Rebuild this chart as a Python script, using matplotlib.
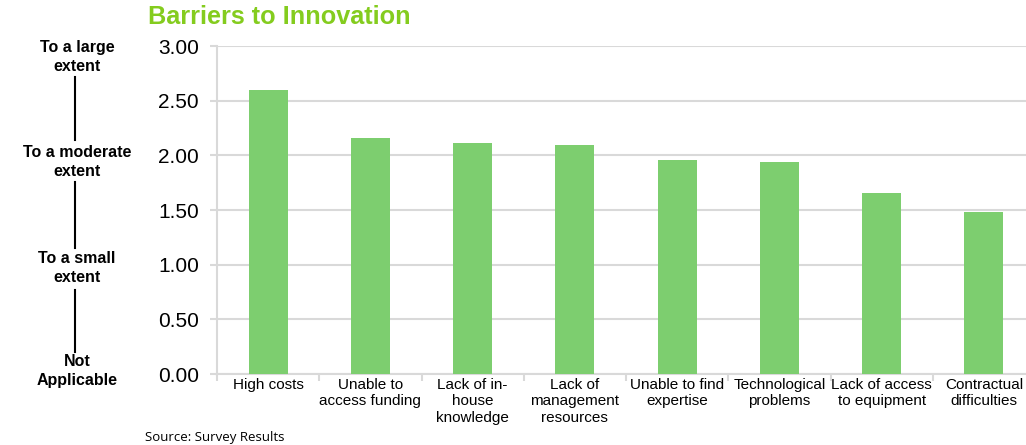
import numpy as np
import matplotlib.pyplot as plt

# barrier categories and mean scores
barriers = ["High costs", "Unable to\naccess funding", "Lack of in-\nhouse\nknowledge",
            "Lack of\nmanagement\nresources", "Unable to find\nexpertise",
            "Technological\nproblems", "Lack of access\nto equipment", "Contractual\ndifficulties"]
scores = [2.60, 2.16, 2.11, 2.09, 1.96, 1.94, 1.66, 1.48]
yticks = [0.0, 0.5, 1.0, 1.5, 2.0, 2.5, 3.0]
scale_labels = ["To a large\nextent", "To a moderate\nextent", "To a small\nextent", "Not\nApplicable"]

plt.rcParams['font.family'] = ['Liberation Sans', 'DejaVu Sans']

fig = plt.figure(figsize=(10.26, 4.45), dpi=100)
ax = fig.add_axes([217/1026, 1-374/445, 818/1026, 328/445])

x = np.arange(len(barriers))
ax.bar(x, scores, width=0.38, color='#7DCE6F', zorder=3)

ax.set_ylim(0, 3)
ax.set_xlim(-0.5, len(barriers)-0.5)
ax.set_yticks(yticks)
ax.set_yticklabels([f"{v:.2f}" for v in yticks], fontsize=15)
ax.yaxis.grid(True, color='#D9D9D9', linewidth=1.5, zorder=0)
ax.tick_params(axis='y', length=5, color='#D9D9D9', width=1.5, pad=8)

ax.set_xticks(x)
ax.set_xticklabels(barriers, fontsize=11, linespacing=1.2)
ax.set_xticks(np.arange(len(barriers)+1)-0.5, minor=True)
ax.tick_params(axis='x', which='major', length=0, pad=3)
ax.tick_params(axis='x', which='minor', length=5, color='#D9D9D9', width=1.5)

for s in ['top', 'right']:
    ax.spines[s].set_visible(False)
for s in ['left', 'bottom']:
    ax.spines[s].set_color('#D9D9D9')
    ax.spines[s].set_linewidth(1.5)

fig.text(148/1026, 1-17/445, "Barriers to Innovation", fontsize=18.2, fontweight='bold',
         color='#84CC1E', va='center', ha='left')

# rating scale down the left side
label_y = [57, 162, 268, 371]
for lbl, yy in zip(scale_labels, label_y):
    fig.text(77/1026, 1-yy/445, lbl, fontsize=11.5, fontweight='bold', ha='center', va='center',
             linespacing=1.3)
for y0, y1 in [(77, 140), (182, 248), (290, 352)]:
    fig.add_artist(plt.Line2D([75/1026, 75/1026], [1-y0/445, 1-y1/445], color='black', lw=1.5))

fig.text(145/1026, 1-437/445, "Source: Survey Results", fontsize=9.5, family='Open Sans',
         va='center', ha='left')

fig.savefig("out.png", dpi=100)
